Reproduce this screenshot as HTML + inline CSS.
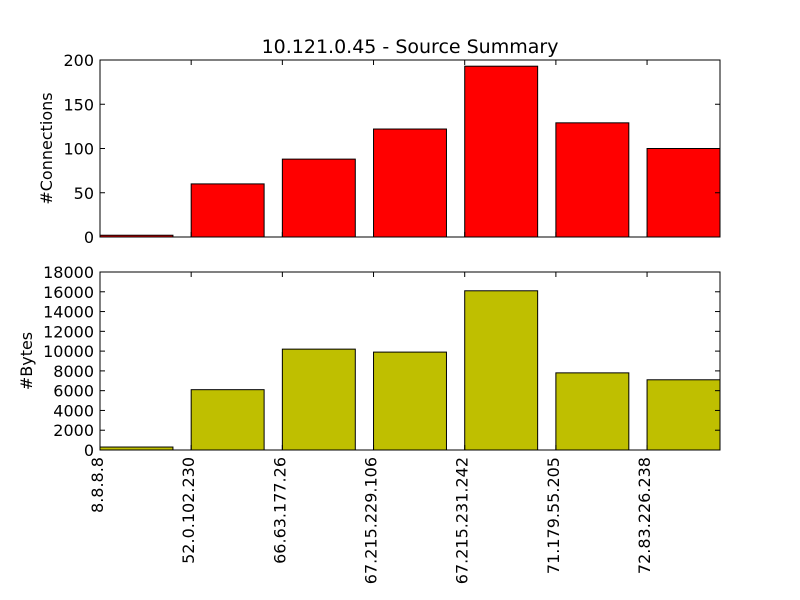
<!DOCTYPE html>
<html><head><meta charset="utf-8"><style>body{margin:0;background:#fff}svg{display:block}text{font-family:"DejaVu Sans","Liberation Sans",sans-serif;fill:#000}</style></head>
<body>
<svg id="chart" width="800" height="600" xmlns="http://www.w3.org/2000/svg">
<text x="410" y="53" font-size="19" text-anchor="middle">10.121.0.45 - Source Summary</text>
<g id="top"></g><g id="bot"></g><g id="xl"></g>
</svg>
<script>
const categories = ["8.8.8.8","52.0.102.230","66.63.177.26","67.215.229.106","67.215.231.242","71.179.55.205","72.83.226.238"];
const connections = [2,60,88,122,193,129,100];
const bytes = [300,6100,10200,9900,16100,7800,7100];
const connTicks = [0,50,100,150,200];
const byteTicks = [0,2000,4000,6000,8000,10000,12000,14000,16000,18000];
const NS="http://www.w3.org/2000/svg";
const X0=100,X1=720;
const xs=v=>X0+v*(X1-X0)/6.8;
function mk(p,t,a){const e=document.createElementNS(NS,t);for(const k in a)e.setAttribute(k,a[k]);p.appendChild(e);return e;}
function panel(g,name,vals,ticks,ymax,top,bot,color,label,ly){
  const ys=v=>bot-v*(bot-top)/ymax;
  vals.forEach((v,i)=>{
    const r=mk(g,'rect',{x:xs(i),y:ys(v),width:xs(0.8)-xs(0),height:bot-ys(v),fill:color,stroke:'#000','stroke-width':1});
    
    
  });
  ticks.forEach(t=>{
    const y=ys(t);
    mk(g,'line',{x1:X0,x2:X0+5,y1:y,y2:y,stroke:'#000'});
    mk(g,'line',{x1:X1,x2:X1-5,y1:y,y2:y,stroke:'#000'});
    const tx=mk(g,'text',{x:X0-6,y:y+6,'font-size':16,'text-anchor':'end'});tx.textContent=t;
    
    
  });
  categories.forEach((c,i)=>{
    mk(g,'line',{x1:xs(i),x2:xs(i),y1:bot,y2:bot-5,stroke:'#000'});
    mk(g,'line',{x1:xs(i),x2:xs(i),y1:top,y2:top+5,stroke:'#000'});
  });
  const fr=mk(g,'rect',{x:X0,y:top,width:X1-X0,height:bot-top,fill:'none',stroke:'#000'});
  
  
  const yl=mk(g,'text',{x:0,y:0,'font-size':16,'text-anchor':'middle',transform:`translate(${ly},${(top+bot)/2}) rotate(-90)`});
  yl.textContent=label;
  
  
}
panel(document.getElementById('top'),'connections',connections,connTicks,200,60,237,'#ff0000','#Connections',52);
panel(document.getElementById('bot'),'bytes',bytes,byteTicks,18000,272,450,'#bfbf00','#Bytes',32);
const xl=document.getElementById('xl');
categories.forEach((c,i)=>{
  const t=mk(xl,'text',{x:0,y:0,'font-size':16,'text-anchor':'end',transform:`translate(${xs(i)+3},${457}) rotate(-90)`});
  t.textContent=c;
  
  
});
</script>
</body></html>
